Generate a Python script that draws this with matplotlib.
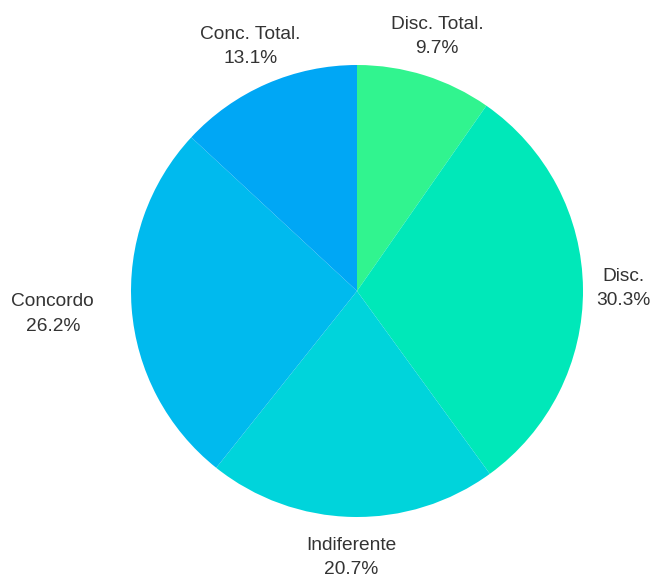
import numpy as np
import matplotlib
matplotlib.use("Agg")
import matplotlib.pyplot as plt

plt.rcParams["font.family"] = ["Liberation Sans", "DejaVu Sans"]

# ── Data ──────────────────────────────────────────────────────────────────
labels = ["Disc. Total.", "Disc.", "Indiferente", "Concordo", "Conc. Total."]
values = [9.7, 30.3, 20.7, 26.2, 13.1]
colors = ["#31F48F", "#00E8B9", "#00D4DB", "#00BAEE", "#00A7F5"]
label_dist = [1.18, 1.18, 1.18, 1.35, 1.18]

# ── Plot ──────────────────────────────────────────────────────────────────
fig = plt.figure(figsize=(6.51, 5.76), dpi=100)
ax = fig.add_axes([0, 0, 1, 1])

wedges, _ = ax.pie(values, colors=colors, startangle=90, counterclock=False,
                   radius=1.0, wedgeprops=dict(linewidth=0))

for w, lab, val, d in zip(wedges, labels, values, label_dist):
    ang = np.deg2rad((w.theta1 + w.theta2) / 2)
    ax.text(d * np.cos(ang), d * np.sin(ang), f"{lab}\n{val:.1f}%",
            ha="center", va="center", multialignment="center",
            fontsize=13.8, color="#333333", linespacing=1.55)

# centre at (357, 291) px, radius 226 px
ax.set_xlim(-357 / 226, (651 - 357) / 226)
ax.set_ylim(-(576 - 291) / 226, 291 / 226)
ax.set_aspect("auto")
ax.axis("off")

fig.savefig("out.png", dpi=100)
plt.close(fig)
